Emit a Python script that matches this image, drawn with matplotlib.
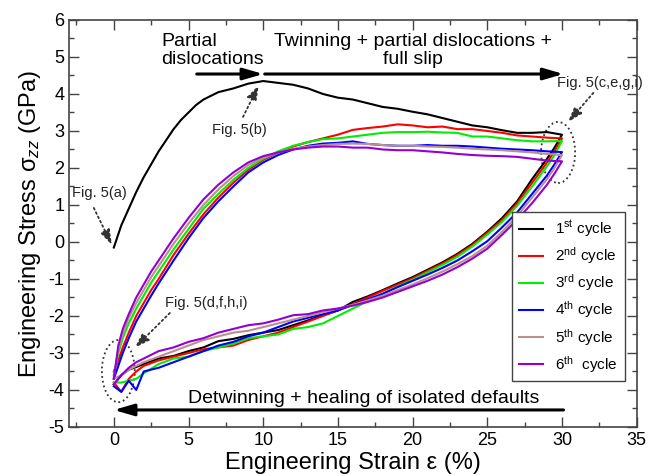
import matplotlib
matplotlib.use('Agg')
import matplotlib.pyplot as plt
from matplotlib.patches import Ellipse
from matplotlib.ticker import MultipleLocator

# strain grids (%)
strain_first = [0, 0.5, 1, 1.5, 2, 2.5, 3, 3.5, 4, 4.5, 5, 5.5, 6, 7, 8, 9, 10,
                11, 12, 13, 14, 15, 16, 17, 18, 19, 20, 21, 22, 23, 24, 25, 26,
                27, 28, 29, 30]
strain_load = [0, 0.3, 0.6, 1, 1.5, 2, 2.5, 3, 4, 5, 6, 7, 8, 9, 10, 11, 12,
               13, 14, 15, 16, 17, 18, 19, 20, 21, 22, 23, 24, 25, 26, 27, 28,
               29, 30]
strain_unload = [30, 29.5, 29, 28, 27, 26, 25, 24, 23, 22, 21, 20, 19, 18, 17,
                 16, 15, 14, 13, 12, 11, 10, 9, 8, 7, 6, 5, 4, 3, 2, 1.5, 1,
                 0.5, 0]

# stress (GPa)
load_1 = [-0.15, 0.45, 0.9, 1.35, 1.75, 2.1, 2.45, 2.75, 3.05, 3.3, 3.5, 3.7,
          3.85, 4.05, 4.15, 4.28, 4.35, 4.3, 4.25, 4.15, 4.0, 3.9, 3.85, 3.75,
          3.65, 3.6, 3.52, 3.45, 3.35, 3.25, 3.15, 3.1, 3.02, 2.95, 2.95, 2.97,
          2.9]
load_2 = [-3.5, -3.2, -2.85, -2.45, -2.0, -1.65, -1.3, -1.0, -0.35, 0.22, 0.75,
          1.2, 1.6, 1.95, 2.22, 2.42, 2.58, 2.7, 2.8, 2.9, 3.03, 3.08, 3.12,
          3.18, 3.15, 3.1, 3.12, 3.05, 3.05, 3.0, 2.95, 2.88, 2.85, 2.82, 2.8]
load_3 = [-3.6, -3.0, -2.6, -2.2, -1.8, -1.45, -1.1, -0.8, -0.2, 0.35, 0.9,
          1.3, 1.68, 2.0, 2.25, 2.45, 2.6, 2.7, 2.78, 2.8, 2.85, 2.9, 2.95,
          2.97, 2.97, 2.98, 2.96, 2.95, 2.85, 2.85, 2.8, 2.75, 2.72, 2.72, 2.73]
load_4 = [-3.7, -3.35, -3.0, -2.6, -2.15, -1.8, -1.45, -1.12, -0.5, 0.1, 0.65,
          1.1, 1.5, 1.88, 2.15, 2.35, 2.5, 2.6, 2.66, 2.68, 2.72, 2.65, 2.62,
          2.6, 2.6, 2.62, 2.6, 2.6, 2.58, 2.55, 2.52, 2.5, 2.48, 2.45, 2.43]
load_5 = [-3.65, -2.9, -2.5, -2.05, -1.65, -1.3, -0.95, -0.65, -0.05, 0.5, 1.0,
          1.42, 1.78, 2.08, 2.28, 2.42, 2.52, 2.58, 2.62, 2.65, 2.66, 2.65,
          2.62, 2.6, 2.6, 2.58, 2.57, 2.55, 2.52, 2.5, 2.48, 2.45, 2.42, 2.38,
          2.35]
load_6 = [-3.7, -2.8, -2.35, -1.95, -1.5, -1.15, -0.8, -0.5, 0.1, 0.65, 1.15,
          1.55, 1.88, 2.15, 2.32, 2.42, 2.5, 2.55, 2.58, 2.58, 2.55, 2.55, 2.5,
          2.48, 2.48, 2.45, 2.42, 2.38, 2.35, 2.33, 2.32, 2.3, 2.25, 2.2, 2.18]

unload_1 = [2.9, 2.55, 2.25, 1.7, 1.1, 0.65, 0.28, -0.05, -0.32, -0.55, -0.75,
            -0.95, -1.12, -1.3, -1.47, -1.62, -1.85, -1.98, -2.12, -2.25, -2.38,
            -2.45, -2.52, -2.62, -2.68, -2.85, -2.95, -3.08, -3.15, -3.3, -3.38,
            -3.45, -3.6, -3.85]
unload_2 = [2.8, 2.45, 2.15, 1.6, 1.05, 0.6, 0.25, -0.08, -0.35, -0.58, -0.78,
            -0.98, -1.15, -1.32, -1.5, -1.68, -1.85, -2.0, -2.15, -2.3, -2.45,
            -2.55, -2.65, -2.8, -2.85, -2.9, -3.0, -3.1, -3.2, -3.35, -3.5,
            -3.7, -4.05, -3.8]
unload_3 = [2.73, 2.35, 2.05, 1.5, 0.98, 0.55, 0.2, -0.12, -0.4, -0.62, -0.82,
            -1.02, -1.2, -1.4, -1.6, -1.8, -2.0, -2.2, -2.3, -2.35, -2.5, -2.55,
            -2.6, -2.75, -2.85, -2.95, -3.1, -3.15, -3.3, -3.55, -3.7, -3.75,
            -3.8, -3.8]
unload_4 = [2.43, 2.1, 1.8, 1.3, 0.8, 0.4, 0.02, -0.25, -0.5, -0.7, -0.88,
            -1.05, -1.22, -1.4, -1.55, -1.7, -1.85, -1.95, -2.05, -2.15, -2.3,
            -2.45, -2.55, -2.7, -2.8, -2.95, -3.1, -3.25, -3.4, -3.5, -4.0,
            -3.75, -4.05, -3.9]
unload_5 = [2.35, 2.0, 1.7, 1.2, 0.7, 0.28, -0.1, -0.38, -0.6, -0.8, -0.98,
            -1.15, -1.3, -1.45, -1.58, -1.7, -1.8, -1.9, -2.0, -2.1, -2.2, -2.3,
            -2.4, -2.45, -2.55, -2.65, -2.8, -2.95, -3.1, -3.25, -3.35, -3.45,
            -3.6, -3.7]
unload_6 = [2.18, 1.85, 1.55, 1.05, 0.6, 0.2, -0.18, -0.45, -0.68, -0.88,
            -1.05, -1.2, -1.35, -1.5, -1.62, -1.72, -1.8, -1.85, -1.95, -1.98,
            -2.1, -2.2, -2.25, -2.35, -2.45, -2.6, -2.7, -2.85, -2.95, -3.15,
            -3.25, -3.4, -3.6, -3.85]

labels = [r'1$^{\rm st}$ cycle', r'2$^{\rm nd}$ cycle', r'3$^{\rm rd}$ cycle',
          r'4$^{\rm th}$ cycle', r'5$^{\rm th}$ cycle', r'6$^{\rm th}$  cycle']
colors = ['#000000', '#ff0000', '#00ee00', '#0000ff', '#bc8f8f', '#9400d3']

plt.rcParams['font.family'] = ['Liberation Sans', 'DejaVu Sans']
plt.rcParams['mathtext.fontset'] = 'custom'
plt.rcParams['mathtext.rm'] = 'Liberation Sans'
plt.rcParams['mathtext.it'] = 'Liberation Sans:italic'
plt.rcParams['axes.unicode_minus'] = False

fig = plt.figure(figsize=(6.51, 4.76), dpi=100)
ax = fig.add_axes([0.106, 0.103, 0.872, 0.855])

loads = [load_1, load_2, load_3, load_4, load_5, load_6]
unloads = [unload_1, unload_2, unload_3, unload_4, unload_5, unload_6]
for idx in range(6):
    xs = (strain_first if idx == 0 else strain_load) + strain_unload
    ys = loads[idx] + unloads[idx]
    ax.plot(xs, ys, color=colors[idx], lw=1.5, label=labels[idx])

ax.set_xlim(-3, 35)
ax.set_ylim(-5, 6)
ax.xaxis.set_major_locator(MultipleLocator(5))
ax.xaxis.set_minor_locator(MultipleLocator(2.5))
ax.yaxis.set_major_locator(MultipleLocator(1))
ax.yaxis.set_minor_locator(MultipleLocator(0.5))
ax.tick_params(which='both', direction='in', top=True, right=True,
               labelsize=13, color='#444444')
ax.tick_params(which='major', length=7, width=1)
ax.tick_params(which='minor', length=3.5, width=1)
for sp in ax.spines.values():
    sp.set_color('#444444')
    sp.set_linewidth(1.2)

ax.set_xlabel('Engineering Strain ε (%)', fontsize=17, labelpad=2)
ax.set_ylabel(r'Engineering Stress σ$_{zz}$ (GPa)', fontsize=17, labelpad=4)

leg = ax.legend(loc='lower right', bbox_to_anchor=(0.979, 0.112), fontsize=11,
                frameon=True, fancybox=False, framealpha=1, edgecolor='#444444',
                handlelength=1.6, handletextpad=0.8, labelspacing=0.4,
                borderpad=0.45, borderaxespad=0)
leg.get_frame().set_linewidth(1.0)

# annotations
bold_arrow = dict(arrowstyle='-|>,head_length=1.2,head_width=0.35', lw=2.2,
                  color='k', shrinkA=0, shrinkB=0, mutation_scale=10)
dot_arrow = dict(arrowstyle='-|>,head_length=0.9,head_width=0.3', lw=1.3,
                 ls=':', color='#333333', shrinkA=0, shrinkB=0, mutation_scale=10)

ax.text(3.15, 4.82, 'Partial\ndislocations', fontsize=14, ha='left',
        va='baseline', linespacing=1.05)
ax.text(20.0, 4.82, 'Twinning + partial dislocations +\nfull slip', fontsize=14,
        ha='center', va='baseline', multialignment='center', linespacing=1.05)
ax.annotate('', xy=(10.0, 4.54), xytext=(5.55, 4.54), arrowprops=bold_arrow)
ax.annotate('', xy=(30.1, 4.54), xytext=(10.1, 4.54), arrowprops=bold_arrow)
ax.text(16.7, -4.22, 'Detwinning + healing of isolated defaults', fontsize=14,
        ha='center', va='center')
ax.annotate('', xy=(0.0, -4.54), xytext=(30.1, -4.54), arrowprops=bold_arrow)

ax.text(8.4, 3.03, 'Fig. 5(b)', fontsize=10.5, ha='center', va='center',
        color='#222222')
ax.annotate('', xy=(9.7, 4.24), xytext=(8.65, 3.38), arrowprops=dot_arrow)
ax.text(-0.94, 1.32, 'Fig. 5(a)', fontsize=10.5, ha='center', va='center',
        color='#222222')
ax.annotate('', xy=(-0.13, -0.08), xytext=(-1.34, 0.92), arrowprops=dot_arrow)
ax.text(6.2, -1.65, 'Fig. 5(d,f,h,i)', fontsize=10.5, ha='center', va='center',
        color='#222222')
ax.annotate('', xy=(1.4, -2.86), xytext=(3.75, -1.92), arrowprops=dot_arrow)
ax.text(32.55, 4.3, 'Fig. 5(c,e,g,i)', fontsize=10.5, ha='center', va='center',
        color='#222222')
ax.annotate('', xy=(30.4, 3.24), xytext=(32.1, 4.03), arrowprops=dot_arrow)

ax.add_patch(Ellipse((0.3, -3.49), 2.2, 1.68, fill=False, ls=':', lw=1.3,
                     ec='#333333'))
ax.add_patch(Ellipse((29.74, 2.42), 2.28, 1.65, fill=False, ls=':', lw=1.3,
                     ec='#333333'))

fig.savefig('out.png', dpi=100)
